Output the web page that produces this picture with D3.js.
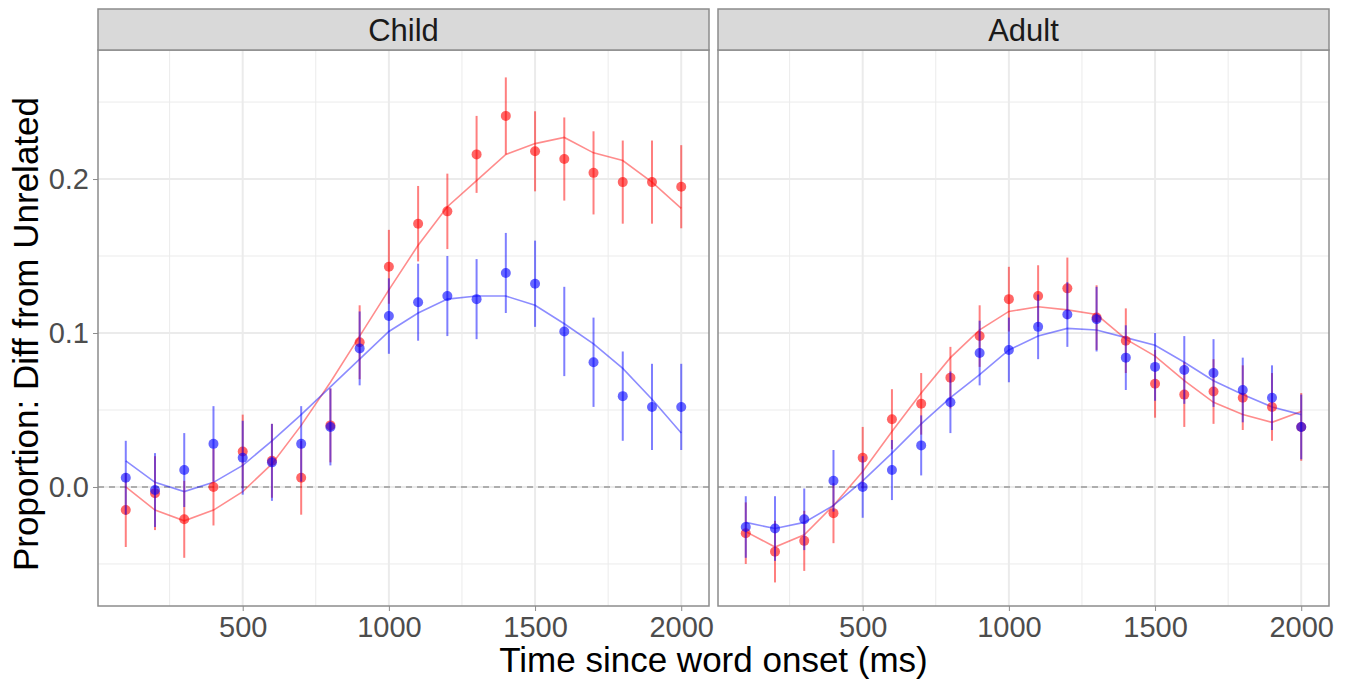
<!DOCTYPE html>
<html>
<head>
<meta charset="utf-8">
<script src="https://cdn.jsdelivr.net/npm/d3@7"></script>
<style>
  body { margin: 0; background: #fff; }
  svg text { font-family: "Liberation Sans", Arial, sans-serif; }
  .tick text { fill: #4d4d4d; font-size: 29px; }
  .tick line { stroke: #8c8c8c; }
  .domain { display: none; }
</style>
</head>
<body>
<div id="chart"></div>
<script>
const width = 1351;
const height = 681;

const time = [100, 200, 300, 400, 500, 600, 700, 800, 900, 1000,
              1100, 1200, 1300, 1400, 1500, 1600, 1700, 1800, 1900, 2000];
const panels = ["Child", "Adult"];
const yTicks = [0, 0.1, 0.2];
const yMinor = [-0.05, 0.05, 0.15, 0.25];
const xTicks = [500, 1000, 1500, 2000];
const xMinor = [250, 750, 1250, 1750];

// child, red condition
const childRedMean = [-0.015, -0.004, -0.021, 0.000, 0.023, 0.017, 0.006, 0.040, 0.094, 0.143,
                      0.171, 0.179, 0.216, 0.241, 0.218, 0.213, 0.204, 0.198, 0.198, 0.195];
const childRedErr  = [0.024, 0.024, 0.025, 0.025, 0.024, 0.024, 0.024, 0.024, 0.024, 0.024,
                      0.0245, 0.0245, 0.025, 0.025, 0.026, 0.027, 0.027, 0.027, 0.027, 0.027];
const childRedFit  = [0.000, -0.015, -0.022, -0.015, -0.003, 0.015, 0.040, 0.068, 0.098, 0.128,
                      0.157, 0.182, 0.199, 0.216, 0.223, 0.227, 0.217, 0.212, 0.198, 0.181];
// child, blue condition
const childBlueMean = [0.006, -0.002, 0.011, 0.028, 0.019, 0.016, 0.028, 0.039, 0.090, 0.111,
                       0.120, 0.124, 0.122, 0.139, 0.132, 0.101, 0.081, 0.059, 0.052, 0.052];
const childBlueErr  = [0.024, 0.024, 0.024, 0.0245, 0.024, 0.025, 0.0245, 0.025, 0.024, 0.0245,
                       0.025, 0.026, 0.026, 0.026, 0.028, 0.029, 0.029, 0.029, 0.028, 0.028];
const childBlueFit  = [0.017, 0.003, -0.003, 0.003, 0.014, 0.030, 0.047, 0.065, 0.083, 0.101,
                       0.113, 0.122, 0.124, 0.124, 0.118, 0.106, 0.093, 0.077, 0.057, 0.035];
// adult, red condition
const adultRedMean = [-0.030, -0.042, -0.035, -0.017, 0.019, 0.044, 0.054, 0.071, 0.098, 0.122,
                      0.124, 0.129, 0.110, 0.095, 0.067, 0.060, 0.062, 0.058, 0.052, 0.039];
const adultRedErr  = [0.020, 0.020, 0.0195, 0.0195, 0.020, 0.0195, 0.020, 0.020, 0.020, 0.021,
                      0.020, 0.020, 0.021, 0.021, 0.022, 0.021, 0.021, 0.021, 0.022, 0.022];
const adultRedFit  = [-0.029, -0.039, -0.031, -0.012, 0.010, 0.036, 0.061, 0.084, 0.102, 0.114,
                      0.117, 0.115, 0.112, 0.096, 0.085, 0.069, 0.055, 0.047, 0.042, 0.049];
// adult, blue condition
const adultBlueMean = [-0.026, -0.027, -0.021, 0.004, 0.000, 0.011, 0.027, 0.055, 0.087, 0.089,
                       0.104, 0.112, 0.109, 0.084, 0.078, 0.076, 0.074, 0.063, 0.058, 0.039];
const adultBlueErr  = [0.020, 0.021, 0.020, 0.020, 0.020, 0.0195, 0.0195, 0.020, 0.021, 0.021,
                       0.021, 0.021, 0.021, 0.021, 0.022, 0.022, 0.022, 0.021, 0.021, 0.021];
const adultBlueFit  = [-0.023, -0.027, -0.023, -0.012, 0.004, 0.022, 0.041, 0.058, 0.073, 0.089,
                       0.098, 0.103, 0.102, 0.097, 0.092, 0.081, 0.069, 0.060, 0.052, 0.047];

const series = {
  Child: [
    { color: "#ff0000", mean: childRedMean, err: childRedErr, fit: childRedFit },
    { color: "#0000ff", mean: childBlueMean, err: childBlueErr, fit: childBlueFit }
  ],
  Adult: [
    { color: "#ff0000", mean: adultRedMean, err: adultRedErr, fit: adultRedFit },
    { color: "#0000ff", mean: adultBlueMean, err: adultBlueErr, fit: adultBlueFit }
  ]
};

const panelLeft = [98, 718];
const panelW = 611;
const stripTop = 9, stripBottom = 50, panelBottom = 606;

const y = d3.scaleLinear().domain([-0.0773, 0.2838]).range([panelBottom, stripBottom]);

const svg = d3.select("#chart").append("svg")
  .attr("width", width).attr("height", height);

panels.forEach((name, i) => {
  const x0 = panelLeft[i];
  const x = d3.scaleLinear().domain([5, 2095]).range([x0, x0 + panelW]);
  const g = svg.append("g");

  // grid
  g.selectAll(".ymin").data(yMinor).enter().append("line")
    .attr("x1", x0).attr("x2", x0 + panelW)
    .attr("y1", d => y(d)).attr("y2", d => y(d))
    .attr("stroke", "#ebebeb").attr("stroke-width", 1);
  g.selectAll(".xmin").data(xMinor).enter().append("line")
    .attr("y1", stripBottom).attr("y2", panelBottom)
    .attr("x1", d => x(d)).attr("x2", d => x(d))
    .attr("stroke", "#ebebeb").attr("stroke-width", 1);
  g.selectAll(".ymaj").data(yTicks).enter().append("line")
    .attr("x1", x0).attr("x2", x0 + panelW)
    .attr("y1", d => y(d)).attr("y2", d => y(d))
    .attr("stroke", "#ebebeb").attr("stroke-width", 2);
  g.selectAll(".xmaj").data(xTicks).enter().append("line")
    .attr("y1", stripBottom).attr("y2", panelBottom)
    .attr("x1", d => x(d)).attr("x2", d => x(d))
    .attr("stroke", "#ebebeb").attr("stroke-width", 2);

  // zero reference
  g.append("line")
    .attr("x1", x0).attr("x2", x0 + panelW)
    .attr("y1", y(0)).attr("y2", y(0))
    .attr("stroke", "#9a9a9a").attr("stroke-width", 1.3)
    .attr("stroke-dasharray", "6,5");

  const line = d3.line().x((d, j) => x(time[j])).y(d => y(d));

  series[name].forEach(s => {
    g.append("path")
      .attr("d", line(s.fit))
      .attr("fill", "none")
      .attr("stroke", s.color)
      .attr("stroke-opacity", 0.45)
      .attr("stroke-width", 1.6);
  });

  series[name].forEach(s => {
    g.selectAll(null).data(s.mean).enter().append("line")
      .attr("x1", (d, j) => x(time[j])).attr("x2", (d, j) => x(time[j]))
      .attr("y1", (d, j) => y(d - s.err[j]))
      .attr("y2", (d, j) => y(d + s.err[j]))
      .attr("stroke", s.color)
      .attr("stroke-opacity", 0.5)
      .attr("stroke-width", 2);
    g.selectAll(null).data(s.mean).enter().append("circle")
      .attr("cx", (d, j) => x(time[j]))
      .attr("cy", d => y(d))
      .attr("r", 5)
      .attr("fill", s.color)
      .attr("fill-opacity", 0.6);
  });

  // panel border
  g.append("rect")
    .attr("x", x0).attr("y", stripBottom)
    .attr("width", panelW).attr("height", panelBottom - stripBottom)
    .attr("fill", "none").attr("stroke", "#8c8c8c").attr("stroke-width", 1.5);

  // strip
  g.append("rect")
    .attr("x", x0).attr("y", stripTop)
    .attr("width", panelW).attr("height", stripBottom - stripTop)
    .attr("fill", "#d9d9d9").attr("stroke", "#8c8c8c").attr("stroke-width", 1.5);
  g.append("text")
    .attr("x", x0 + panelW / 2).attr("y", (stripTop + stripBottom) / 2)
    .attr("text-anchor", "middle").attr("dy", "0.36em")
    .attr("font-size", 31).attr("fill", "#1a1a1a")
    .text(name);

  // x axis
  svg.append("g")
    .attr("transform", `translate(0,${panelBottom})`)
    .call(d3.axisBottom(x).tickValues(xTicks).tickFormat(d3.format("d")).tickSize(5).tickPadding(5));

  if (i === 0) {
    svg.append("g")
      .attr("transform", `translate(${x0},0)`)
      .call(d3.axisLeft(y).tickValues(yTicks).tickFormat(d3.format(".1f")).tickSize(5).tickPadding(4));
  }
});

svg.append("text")
  .attr("x", (panelLeft[0] + panelLeft[1] + panelW) / 2).attr("y", 672)
  .attr("text-anchor", "middle").attr("font-size", 35).attr("fill", "#000")
  .text("Time since word onset (ms)");

svg.append("text")
  .attr("transform", `translate(38,334) rotate(-90)`)
  .attr("text-anchor", "middle").attr("font-size", 35).attr("fill", "#000")
  .text("Proportion: Diff from Unrelated");
</script>
</body>
</html>
